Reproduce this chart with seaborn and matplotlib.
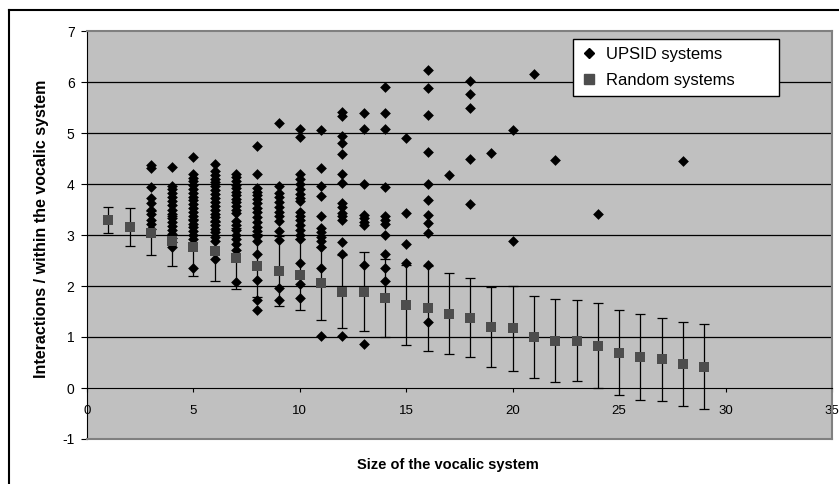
import pandas as pd
import seaborn as sns
from matplotlib import pyplot as plt
from matplotlib.lines import Line2D

plt.rcParams['font.family'] = ['Liberation Sans', 'DejaVu Sans']
plt.rcParams['axes.unicode_minus'] = False

# random systems: mean and standard deviation per size
random_size = [1, 2, 3, 4, 5, 6, 7, 8, 9, 10, 11, 12, 13, 14, 15,
               16, 17, 18, 19, 20, 21, 22, 23, 24, 25, 26, 27, 28, 29]
random_mean = [3.29, 3.15, 3.04, 2.89, 2.76, 2.68, 2.54, 2.40, 2.30, 2.22,
               2.05, 1.89, 1.89, 1.76, 1.63, 1.56, 1.46, 1.38, 1.20, 1.17,
               1.00, 0.93, 0.93, 0.83, 0.69, 0.61, 0.56, 0.47, 0.42]
random_sd = [0.26, 0.37, 0.44, 0.49, 0.56, 0.58, 0.59, 0.62, 0.69, 0.70,
             0.71, 0.72, 0.77, 0.76, 0.78, 0.84, 0.79, 0.77, 0.79, 0.83,
             0.80, 0.81, 0.80, 0.83, 0.83, 0.84, 0.82, 0.83, 0.84]

# UPSID systems, one list of values per vocalic system size
upsid_size = [3, 4, 5, 6, 7, 8, 9, 10, 11, 12, 13, 14, 15, 16, 17, 18,
              19, 20, 21, 22, 24, 28]
upsid_values = [
    [4.38, 4.31, 3.95, 3.72, 3.62, 3.50, 3.42, 3.30, 3.22, 3.12],
    [4.34, 3.97, 3.90, 3.82, 3.74, 3.66, 3.58, 3.50, 3.42, 3.34, 3.26,
     3.18, 3.10, 3.02, 2.95, 2.87, 2.76],
    [4.53, 4.20, 4.12, 4.05, 3.98, 3.90, 3.82, 3.75, 3.68, 3.60, 3.52,
     3.45, 3.38, 3.30, 3.22, 3.15, 3.08, 3.00, 2.92, 2.35],
    [4.40, 4.25, 4.18, 4.10, 4.03, 3.96, 3.88, 3.80, 3.72, 3.65, 3.57,
     3.50, 3.42, 3.35, 3.27, 3.20, 3.12, 3.05, 2.97, 2.88, 2.52],
    [4.20, 4.13, 4.06, 3.99, 3.92, 3.85, 3.78, 3.71, 3.64, 3.57, 3.50,
     3.43, 3.27, 3.20, 3.10, 3.00, 2.92, 2.82, 2.70, 2.07],
    [4.75, 4.19, 3.92, 3.85, 3.78, 3.70, 3.62, 3.52, 3.45, 3.35, 3.25,
     3.15, 3.08, 2.98, 2.88, 2.62, 2.12, 1.73, 1.53],
    [5.20, 3.97, 3.83, 3.75, 3.65, 3.55, 3.45, 3.37, 3.27, 3.07, 2.91,
     1.97, 1.72],
    [5.08, 4.92, 4.19, 4.10, 4.00, 3.90, 3.80, 3.72, 3.66, 3.46, 3.38,
     3.30, 3.20, 3.10, 3.00, 2.93, 2.45, 2.03, 1.76],
    [5.06, 4.32, 3.96, 3.76, 3.37, 3.14, 3.05, 2.97, 2.88, 2.77, 2.35, 1.02],
    [5.42, 5.33, 4.94, 4.81, 4.58, 4.19, 4.02, 3.63, 3.55, 3.44, 3.38,
     3.30, 2.87, 2.62, 1.02],
    [5.40, 5.08, 4.00, 3.40, 3.33, 3.25, 3.20, 2.42, 0.87],
    [5.90, 5.40, 5.08, 3.94, 3.37, 3.30, 3.22, 3.00, 2.62, 2.35, 2.09],
    [4.90, 3.43, 2.83, 2.46],
    [6.24, 5.89, 5.35, 4.63, 4.00, 3.68, 3.40, 3.23, 3.03, 2.42, 1.30],
    [4.18],
    [6.02, 5.77, 5.49, 4.49, 3.60],
    [4.60],
    [5.06, 2.89],
    [6.16],
    [4.47],
    [3.41],
    [4.45],
]

upsid = pd.DataFrame(
    [(s, v) for s, vals in zip(upsid_size, upsid_values) for v in vals],
    columns=["size", "value"])
rand = pd.DataFrame({"size": random_size, "mean": random_mean, "sd": random_sd})

fig = plt.figure(figsize=(8.39, 4.84), dpi=100)
ax = fig.add_axes([87/839, 1 - 439/484, 745/839, 408/484])
ax.set_facecolor("#c0c0c0")

for g in [1, 2, 3, 4, 5, 6]:
    ax.axhline(g, color="black", lw=0.9, zorder=1)

ax.errorbar(rand["size"], rand["mean"], yerr=rand["sd"], fmt="none",
            ecolor="black", elinewidth=0.9, capsize=3.8, capthick=0.9, zorder=2)
sns.scatterplot(data=upsid, x="size", y="value", marker="D", color="black",
                s=30, linewidth=0, ax=ax, zorder=3)
sns.scatterplot(data=rand, x="size", y="mean", marker="s", color="#4d4d4d",
                s=46, linewidth=0, ax=ax, zorder=4)

ax.set_xlim(0, 35)
ax.set_ylim(-1, 7)
ax.set_xticks([0, 5, 10, 15, 20, 25, 30, 35])
ax.set_yticks([-1, 0, 1, 2, 3, 4, 5, 6, 7])
ax.set_xlabel("")
ax.set_ylabel("")

ax.spines["bottom"].set_position(("data", 0))
ax.spines["bottom"].set_color("black")
ax.spines["left"].set_color("black")
ax.spines["top"].set_color("#808080")
ax.spines["right"].set_color("#808080")
ax.spines["top"].set_linewidth(1.5)
ax.spines["right"].set_linewidth(1.5)
ax.axhline(-1, color="#808080", lw=1.5, clip_on=False, zorder=5)

ax.tick_params(axis="x", direction="out", length=3, pad=9, labelsize=9.5)
ax.tick_params(axis="y", direction="out", length=4, pad=5, labelsize=10)

handles = [
    Line2D([], [], marker="D", color="black", linestyle="none", markersize=5),
    Line2D([], [], marker="s", color="#4d4d4d", linestyle="none", markersize=7),
]
ax.legend(handles, ["UPSID systems", "Random systems"],
          loc="upper left", mode="expand",
          bbox_to_anchor=(573/839, 1 - 105/484, 206/839, 66/484),
          bbox_transform=fig.transFigure, borderaxespad=0,
          fontsize=12, frameon=True, fancybox=False, edgecolor="black",
          framealpha=1, borderpad=0.45, labelspacing=0.7,
          handlelength=1.0, handletextpad=0.5)

fig.text(448/839, 1 - 465/484, "Size of the vocalic system",
         ha="center", va="center", fontsize=10.5, fontweight="bold")
fig.text(42/839, 1 - 229/484, "Interactions / within the vocalic system",
         ha="center", va="center", rotation=90, fontsize=11.5, fontweight="bold")

# chart frame
fig.add_artist(Line2D([9/839, 1], [1 - 10/484, 1 - 10/484],
                      transform=fig.transFigure, color="black", lw=1.5))
fig.add_artist(Line2D([9/839, 9/839], [0, 1 - 10/484],
                      transform=fig.transFigure, color="black", lw=1.5))

plt.savefig("out.png", dpi=100)
